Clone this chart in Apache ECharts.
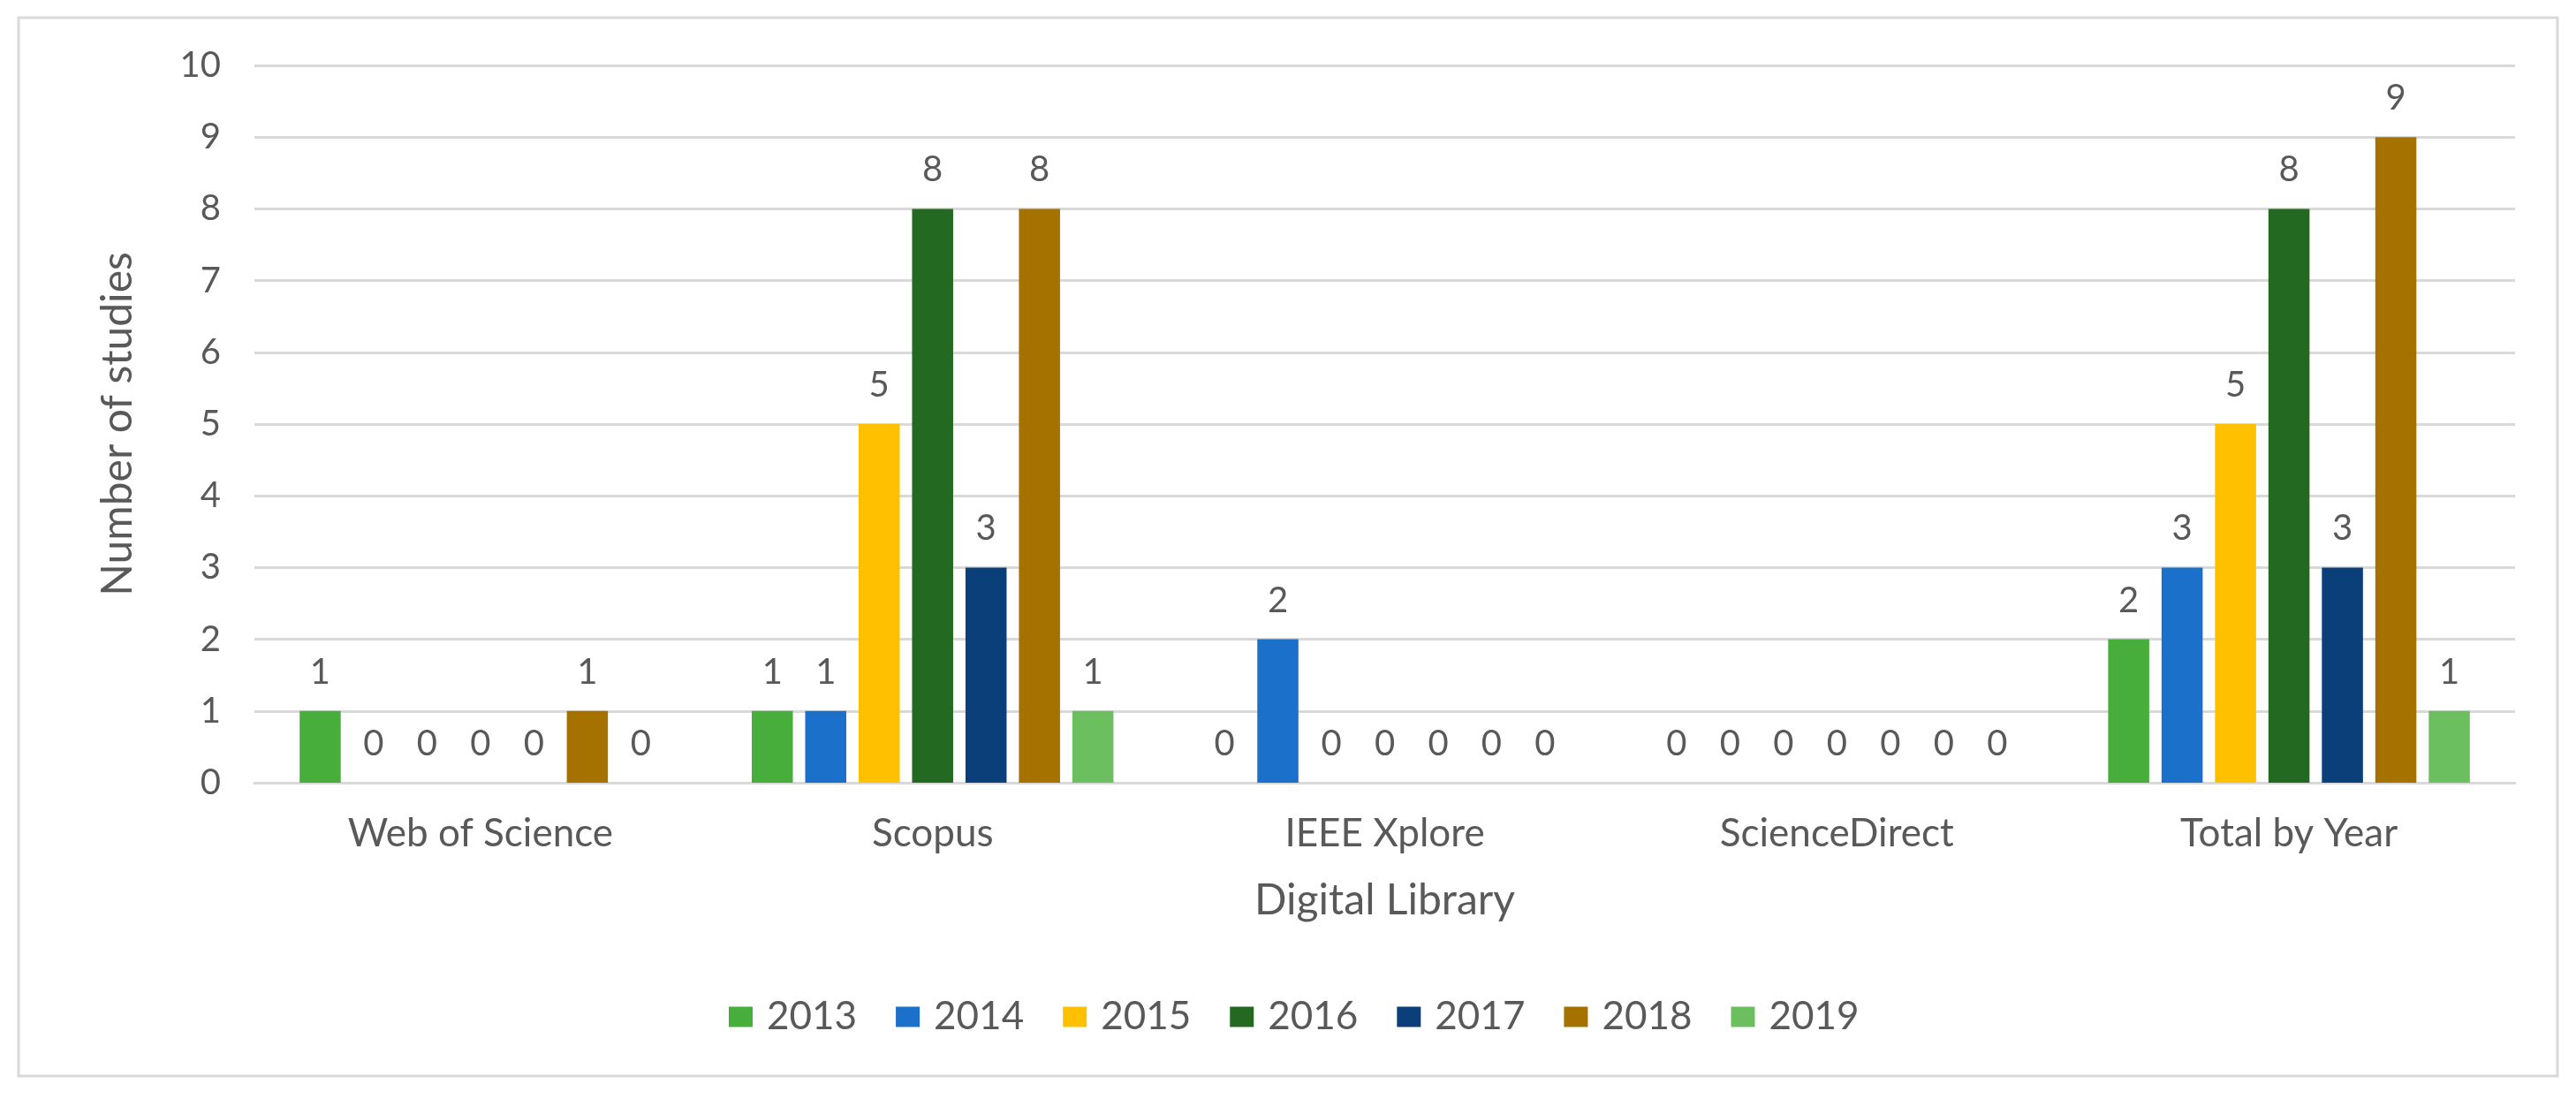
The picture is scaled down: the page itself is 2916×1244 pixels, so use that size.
<!DOCTYPE html>
<html>
<head>
<meta charset="utf-8">
<script src="https://cdn.jsdelivr.net/npm/echarts@6/dist/echarts.min.js"></script>
<style>
html,body{margin:0;padding:0;background:#fff;}
#chart{width:2916px;height:1244px;}
</style>
</head>
<body>
<div id="chart"></div>
<script>
const categories = ['Web of Science', 'Scopus', 'IEEE Xplore', 'ScienceDirect', 'Total by Year'];
const years = ['2013', '2014', '2015', '2016', '2017', '2018', '2019'];
const v2013 = [1, 1, 0, 0, 2];
const v2014 = [0, 1, 2, 0, 3];
const v2015 = [0, 5, 0, 0, 5];
const v2016 = [0, 8, 0, 0, 8];
const v2017 = [0, 3, 0, 0, 3];
const v2018 = [1, 8, 0, 0, 9];
const v2019 = [0, 1, 0, 0, 1];
const yTicks = [0, 1, 2, 3, 4, 5, 6, 7, 8, 9, 10];
const colors = ['#47AE3C', '#1B70C9', '#FFC000', '#246922', '#0A3F7A', '#A57200', '#6CBF5F'];

const values = [v2013, v2014, v2015, v2016, v2017, v2018, v2019];
const FONT = 'Lato';
const TXT = '#595959';

const series = years.map((y, i) => ({
  name: y,
  type: 'bar',
  data: values[i],
  barGap: '30%',
  barCategoryGap: '20%',
  itemStyle: { color: colors[i] },
  label: {
    show: true,
    position: 'top',
    distance: 24,
    color: TXT,
    fontFamily: FONT,
    fontSize: 40
  }
}));

const chart = echarts.init(document.getElementById('chart'));
chart.setOption({
  animation: false,
  backgroundColor: '#fff',
  textStyle: { fontFamily: FONT, color: TXT },
  graphic: [{
    type: 'rect',
    shape: { x: 21, y: 20, width: 2874, height: 1198 },
    style: { fill: 'none', stroke: '#D9D9D9', lineWidth: 3 },
    silent: true
  }],
  grid: { left: 288, right: 69, top: 74, bottom: 358, containLabel: false },
  legend: {
    data: years,
    left: 820,
    top: 1124,
    itemWidth: 27,
    itemHeight: 23,
    itemGap: 44,
    icon: 'rect',
    textStyle: { color: TXT, fontFamily: FONT, fontSize: 44, padding: [0, 0, 0, 11] }
  },
  xAxis: {
    type: 'category',
    data: categories,
    name: 'Digital Library',
    nameLocation: 'middle',
    nameGap: 110,
    nameTextStyle: { color: TXT, fontFamily: FONT, fontSize: 48 },
    axisLine: { lineStyle: { color: '#D9D9D9', width: 3 } },
    axisTick: { show: false },
    axisLabel: { color: TXT, fontFamily: FONT, fontSize: 44, margin: 36 }
  },
  yAxis: {
    type: 'value',
    min: yTicks[0],
    max: yTicks[yTicks.length - 1],
    interval: 1,
    name: 'Number of studies',
    nameLocation: 'middle',
    nameRotate: 90,
    nameGap: 130,
    nameTextStyle: { color: TXT, fontFamily: FONT, fontSize: 48 },
    axisLine: { show: false },
    axisTick: { show: false },
    axisLabel: { color: TXT, fontFamily: FONT, fontSize: 40, margin: 38 },
    splitLine: { lineStyle: { color: '#D9D9D9', width: 3 } }
  },
  series: series
});
</script>
</body>
</html>
